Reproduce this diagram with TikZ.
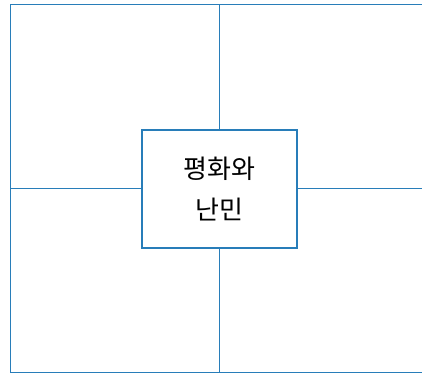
\documentclass[tikz,border=0pt]{standalone}
\usepackage{fontspec}
\newfontfamily\kr{Noto Sans CJK KR}
\definecolor{lineblue}{RGB}{40,125,185}
\begin{document}
\begin{tikzpicture}[x=1pt,y=-1pt,
  frameline/.style={draw=lineblue,line width=1.6pt},
  gridline/.style={draw=lineblue,line width=1.1pt},
  centerbox/.style={draw=lineblue,line width=1.1pt,fill=white,minimum width=155pt,minimum height=118pt,inner sep=0pt,align=center,font=\kr\fontsize{26}{41}\selectfont}]
\useasboundingbox (0,0) rectangle (422,374);
\clip (0,0) rectangle (422,374);
\coordinate (tl) at (10.5,4.5);
\coordinate (tr) at (430,4.5);
\coordinate (bl) at (10.5,372.5);
\coordinate (br) at (430,372.5);
\coordinate (tm) at (219.5,4.5);
\coordinate (bm) at (219.5,372.5);
\coordinate (lm) at (10.5,188.5);
\coordinate (rm) at (430,188.5);
\draw[gridline] (tm) -- (bm);
\draw[gridline] (lm) -- (rm);
\draw[frameline] (tr) -- (tl) -- (bl) -- (br);
\node[centerbox] (c) at (219.5,189) {평화와\\난민};
\end{tikzpicture}
\end{document}
